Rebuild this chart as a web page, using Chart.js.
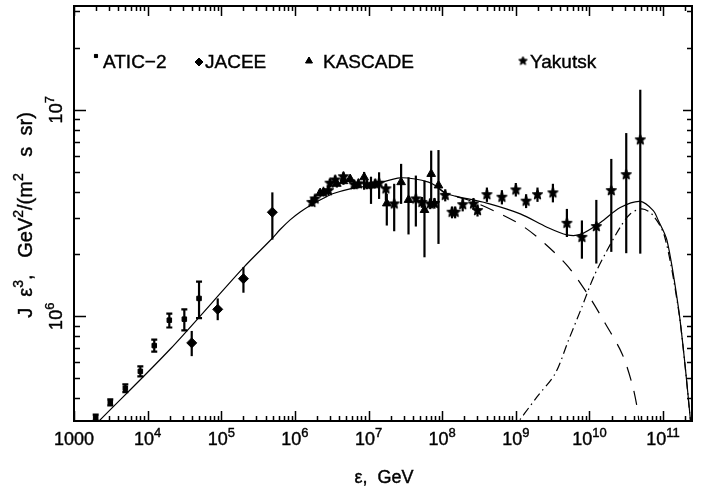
<!DOCTYPE html>
<html lang="en">
<head>
  <meta charset="UTF-8">
  <title>All-particle spectrum</title>
  <script src="https://cdn.jsdelivr.net/npm/chart.js@4.4.1/dist/chart.umd.min.js"></script>
  <style>
    body { margin: 0; background: #fff; }
  </style>
</head>
<body>
  <canvas id="myChart" width="715" height="489"></canvas>

  <script>
    // ATIC-2 (squares)
    const aticE  = [1970, 3110, 4980, 7960, 12300, 19700, 31500, 49900];
    const aticJ  = [3.23e5, 3.83e5, 4.48e5, 5.41e5, 7.21e5, 9.57e5, 9.68e5, 1.22e6];
    const aticLo = [3.12e5, 3.70e5, 4.29e5, 5.12e5, 6.74e5, 8.82e5, 8.55e5, 0.98e6];
    const aticHi = [3.34e5, 3.96e5, 4.68e5, 5.72e5, 7.71e5, 1.03e6, 1.08e6, 1.47e6];

    // JACEE (diamonds)
    const jaceeE  = [39700, 89500, 2.0e5, 4.94e5];
    const jaceeJ  = [7.43e5, 1.08e6, 1.52e6, 3.19e6];
    const jaceeLo = [6.41e5, 9.57e5, 1.30e6, 2.35e6];
    const jaceeHi = [8.49e5, 1.22e6, 1.73e6, 3.98e6];

    // KASCADE (triangles)
    const kascE  = [2.20e6, 3.71e6, 4.56e6, 5.62e6, 8.71e6, 1.08e7, 1.77e7, 2.77e7, 3.49e7, 5.75e7, 7.09e7, 8.91e7];
    const kascJ  = [3.95e6, 4.38e6, 4.51e6, 4.62e6, 4.71e6, 4.30e6, 3.52e6, 4.46e6, 3.66e6, 3.27e6, 4.89e6, 4.30e6];
    const kascLo = [3.80e6, 4.20e6, 4.33e6, 4.43e6, 4.10e6, 3.50e6, 2.75e6, 3.50e6, 2.49e6, 1.93e6, 3.56e6, 2.24e6];
    const kascHi = [4.10e6, 4.56e6, 4.70e6, 4.82e6, 5.00e6, 4.74e6, 3.92e6, 5.47e6, 4.71e6, 4.54e6, 6.34e6, 6.38e6];

    // Yakutsk (stars)
    const yakE  = [1.70e6, 1.88e6, 2.44e6, 2.85e6, 3.0e6, 3.52e6, 4.56e6, 6.37e6, 7.29e6, 9.48e6, 1.23e7, 1.39e7,
                   1.72e7, 2.23e7, 4.39e7, 5.30e7, 6.87e7, 7.86e7, 1.10e8, 1.36e8, 1.50e8, 1.90e8, 2.66e8, 3.02e8,
                   4.05e8, 6.47e8, 1.0e9, 1.38e9, 1.97e9, 3.19e9, 4.94e9, 7.9e9, 1.24e10, 1.98e10, 3.16e10, 4.9e10];
    const yakJ  = [3.56e6, 3.70e6, 3.99e6, 4.06e6, 4.41e6, 4.57e6, 4.74e6, 4.34e6, 4.38e6, 4.34e6, 4.38e6, 4.41e6,
                   4.14e6, 3.50e6, 3.70e6, 3.56e6, 3.50e6, 3.52e6, 3.85e6, 3.19e6, 3.19e6, 3.47e6, 3.50e6, 3.25e6,
                   3.88e6, 3.77e6, 4.09e6, 3.61e6, 3.88e6, 3.96e6, 2.82e6, 2.41e6, 2.72e6, 4.06e6, 4.85e6, 7.15e6];
    const yakLo = [3.40e6, 3.52e6, 3.80e6, 3.86e6, 4.20e6, 4.35e6, 4.50e6, 4.12e6, 4.16e6, 4.12e6, 4.16e6, 3.70e6,
                   3.63e6, 2.58e6, 2.72e6, 3.35e6, 3.30e6, 3.32e6, 3.60e6, 2.98e6, 2.98e6, 3.22e6, 3.28e6, 3.04e6,
                   3.58e6, 3.48e6, 3.80e6, 3.34e6, 3.58e6, 3.56e6, 2.42e6, 1.90e6, 1.80e6, 2.05e6, 2.02e6, 2.01e6];
    const yakHi = [3.73e6, 3.88e6, 4.18e6, 4.26e6, 4.62e6, 4.80e6, 4.98e6, 4.56e6, 4.60e6, 4.56e6, 4.60e6, 4.98e6,
                   4.38e6, 4.38e6, 4.80e6, 3.78e6, 3.72e6, 3.74e6, 4.12e6, 3.40e6, 3.40e6, 3.72e6, 3.74e6, 3.48e6,
                   4.20e6, 4.08e6, 4.42e6, 3.90e6, 4.20e6, 4.38e6, 3.31e6, 2.91e6, 3.66e6, 5.78e6, 7.71e6, 1.25e7];

    // model curves
    const totalE = [2190, 2.0e4, 2.0e5, 4.9e5, 6.30e5, 8.61e5, 1.18e6, 1.70e6, 2.44e6, 3.33e6, 5.62e6, 9.48e6, 1.44e7,
                    2.69e7, 4.30e7, 6.52e7, 8.04e7, 1.10e8, 1.50e8, 4.05e8, 1.15e9, 2.65e9, 4.94e9, 7.50e9, 1.40e10,
                    2.62e10, 4.90e10, 7.36e10, 8.61e10, 1.13e11, 1.61e11, 2.00e11, 2.34e11, 2.45e11];
    const totalJ = [3.11e5, 6.9e5, 1.72e6, 2.38e6, 2.63e6, 2.93e6, 3.20e6, 3.48e6, 3.73e6, 3.93e6, 4.14e6, 4.27e6, 4.44e6,
                    4.68e6, 4.62e6, 4.46e6, 4.30e6, 3.95e6, 3.82e6, 3.53e6, 3.13e6, 2.70e6, 2.48e6, 2.49e6, 2.84e6,
                    3.36e6, 3.60e6, 3.25e6, 2.91e6, 2.33e6, 1.11e6, 5.69e5, 3.21e5, 2.80e5];
    const galE = [8.04e7, 1.10e8, 2.40e8, 5.53e8, 1.21e9, 2.51e9, 5.20e9, 9.72e9, 1.64e10, 2.76e10, 3.78e10, 4.42e10, 4.76e10];
    const galJ = [4.30e6, 3.95e6, 3.63e6, 3.19e6, 2.75e6, 2.24e6, 1.73e6, 1.26e6, 9.22e5, 6.61e5, 4.73e5, 3.65e5, 2.97e5];
    const exgE = [8.93e8, 1.94e9, 3.43e9, 5.20e9, 7.91e9, 1.14e10, 1.73e10, 2.62e10, 3.58e10, 5.16e10, 7.13e10,
                  1.04e11, 1.61e11, 2.00e11, 2.34e11, 2.45e11];
    const exgJ = [2.81e5, 4.07e5, 5.28e5, 7.66e5, 1.11e6, 1.55e6, 2.08e6, 2.70e6, 3.13e6, 3.31e6, 3.11e6,
                  2.46e6, 1.09e6, 5.65e5, 3.18e5, 2.78e5];

    // axes
    const xMin = 1000, xMax = 2.47e11;
    const yMin = 3.11e5, yMax = 3.18e7;
    const xTickVals = [1e3, 1e4, 1e5, 1e6, 1e7, 1e8, 1e9, 1e10, 1e11];
    const xTickText = ['1000', '10^4', '10^5', '10^6', '10^7', '10^8', '10^9', '10^10', '10^11'];
    const yTickVals = [1e6, 1e7];
    const yTickText = ['10^6', '10^7'];
    const xTitle = 'ε,  GeV';
    const yTitle = 'J  ε^3,   GeV^2/(m^2   s  sr)';
    const legendNames = ['ATIC\u22122', 'JACEE', 'KASCADE', 'Yakutsk'];

    const FONT = '"Liberation Sans", Arial, sans-serif';

    function pts(xs, ys) {
      return xs.map((v, i) => ({x: v, y: ys[i]}));
    }

    function starImage(r) {
      const c = document.createElement('canvas');
      const s = Math.ceil(r * 2 + 2);
      c.width = s; c.height = s;
      const g = c.getContext('2d');
      g.fillStyle = '#000';
      g.strokeStyle = '#000';
      g.lineWidth = 1;
      g.beginPath();
      for (let i = 0; i < 10; i++) {
        const a = -Math.PI / 2 + i * Math.PI / 5;
        const rr = i % 2 ? r * 0.45 : r;
        g.lineTo(s / 2 + rr * Math.cos(a), s / 2 + rr * Math.sin(a));
      }
      g.closePath();
      g.fill();
      g.stroke();
      return c;
    }
    const star = starImage(5.5);
    const starSmall = starImage(4.5);

    // split "10^4" style strings into normal / superscript parts
    function parts(str) {
      const out = [];
      const re = /\^(\d+|.)/g;
      let last = 0, m;
      while ((m = re.exec(str))) {
        if (m.index > last) out.push([str.slice(last, m.index), false]);
        out.push([m[1], true]);
        last = re.lastIndex;
      }
      if (last < str.length) out.push([str.slice(last), false]);
      return out;
    }

    function drawRich(ctx, str, x, y, size) {
      const p = parts(str);
      const sup = Math.round(size * 0.72);
      let w = 0;
      p.forEach(([t, s]) => { ctx.font = (s ? sup : size) + 'px ' + FONT; w += ctx.measureText(t).width; });
      let cx = x - w / 2;
      ctx.textAlign = 'left';
      ctx.textBaseline = 'alphabetic';
      ctx.lineWidth = 0.4;
      p.forEach(([t, s]) => {
        ctx.font = (s ? sup : size) + 'px ' + FONT;
        const ty = s ? y - size * 0.45 : y;
        ctx.fillText(t, cx, ty);
        ctx.strokeText(t, cx, ty);
        cx += ctx.measureText(t).width;
      });
    }

    const errors = {
      'ATIC-2': {lo: aticLo, hi: aticHi, cap: 3},
      'JACEE': {lo: jaceeLo, hi: jaceeHi, cap: 0},
      'KASCADE': {lo: kascLo, hi: kascHi, cap: 0},
      'Yakutsk': {lo: yakLo, hi: yakHi, cap: 0}
    };

    const errorBars = {
      id: 'errorBars',
      afterDatasetsDraw(chart) {
        const {ctx, chartArea: a, scales: {x, y}} = chart;
        ctx.save();
        ctx.beginPath();
        ctx.rect(a.left, a.top, a.width, a.height);
        ctx.clip();
        ctx.strokeStyle = '#000';
        ctx.lineWidth = 2.2;
        chart.data.datasets.forEach(ds => {
          const e = errors[ds.label];
          if (!e) return;
          ds.data.forEach((p, i) => {
            const px = x.getPixelForValue(p.x);
            const y1 = y.getPixelForValue(e.lo[i]);
            const y2 = y.getPixelForValue(e.hi[i]);
            ctx.beginPath();
            ctx.moveTo(px, y1);
            ctx.lineTo(px, y2);
            if (e.cap) {
              ctx.moveTo(px - e.cap, y1); ctx.lineTo(px + e.cap, y1);
              ctx.moveTo(px - e.cap, y2); ctx.lineTo(px + e.cap, y2);
            }
            ctx.stroke();
          });
        });
        ctx.restore();
      }
    };

    const frame = {
      id: 'frame',
      afterDraw(chart) {
        const {ctx, chartArea: a, scales: {x, y}} = chart;
        ctx.save();
        ctx.strokeStyle = '#000';
        ctx.fillStyle = '#000';
        ctx.lineWidth = 2;
        ctx.strokeRect(a.left, a.top, a.width, a.height);

        // inward ticks
        ctx.lineWidth = 1.5;
        ctx.beginPath();
        for (let d = 3; d <= 11; d++) {
          for (let m = 1; m <= 9; m++) {
            const v = m * Math.pow(10, d);
            if (v < xMin || v > xMax) continue;
            const px = Math.round(x.getPixelForValue(v)) + 0.5;
            const len = m === 1 ? 10 : 5;
            ctx.moveTo(px, a.bottom); ctx.lineTo(px, a.bottom - len);
            ctx.moveTo(px, a.top); ctx.lineTo(px, a.top + len);
          }
        }
        for (let d = 5; d <= 7; d++) {
          for (let m = 1; m <= 9; m++) {
            const v = m * Math.pow(10, d);
            if (v < yMin || v > yMax) continue;
            const py = Math.round(y.getPixelForValue(v)) + 0.5;
            const len = m === 1 ? 12 : 6;
            ctx.moveTo(a.left, py); ctx.lineTo(a.left + len, py);
            ctx.moveTo(a.right, py); ctx.lineTo(a.right - (m === 1 ? 9 : 5), py);
          }
        }
        ctx.stroke();

        // tick labels
        xTickVals.forEach((v, i) => {
          drawRich(ctx, xTickText[i], x.getPixelForValue(v), a.bottom + 24, 18);
        });
        yTickVals.forEach((v, i) => {
          ctx.save();
          ctx.translate(a.left - 12, y.getPixelForValue(v));
          ctx.rotate(-Math.PI / 2);
          drawRich(ctx, yTickText[i], 0, 0, 18);
          ctx.restore();
        });

        // axis titles
        drawRich(ctx, xTitle, (a.left + a.right) / 2 + 1, 483, 18);
        ctx.save();
        ctx.translate(32, 215);
        ctx.rotate(-Math.PI / 2);
        drawRich(ctx, yTitle, 0, 0, 20);
        ctx.restore();

        // legend
        const marks = [
          {style: 'rect', r: 2.2, mx: 96, my: 56, tx: 103},
          {style: 'rectRot', r: 4, mx: 199, my: 62, tx: 205},
          {style: 'triangle', r: 4, mx: 309, my: 61, tx: 323},
          {style: starSmall, r: 5, mx: 523, my: 61, tx: 530}
        ];
        ctx.textAlign = 'left';
        ctx.textBaseline = 'alphabetic';
        marks.forEach((mk, i) => {
          ctx.lineWidth = 1;
          Chart.helpers.drawPoint(ctx, {pointStyle: mk.style, radius: mk.r, rotation: 0, borderWidth: 1}, mk.mx, mk.my);
          ctx.fill();
          ctx.font = '19px ' + FONT;
          ctx.lineWidth = 0.4;
          ctx.fillText(legendNames[i], mk.tx, 68);
          ctx.strokeText(legendNames[i], mk.tx, 68);
        });
        ctx.restore();
      }
    };

    const markerBase = {backgroundColor: '#000', borderColor: '#000', borderWidth: 1, showLine: false};
    const lineBase = {borderColor: '#000', borderWidth: 1.2, pointRadius: 0, showLine: true, fill: false,
                      tension: 0.3};

    const ctx = document.getElementById('myChart').getContext('2d');
    const myChart = new Chart(ctx, {
      type: 'scatter',
      data: {
        datasets: [
          Object.assign({label: 'ATIC-2', data: pts(aticE, aticJ), pointStyle: 'rect', pointRadius: 3.2}, markerBase),
          Object.assign({label: 'JACEE', data: pts(jaceeE, jaceeJ), pointStyle: 'rectRot', pointRadius: 5}, markerBase),
          Object.assign({label: 'KASCADE', data: pts(kascE, kascJ), pointStyle: 'triangle', pointRadius: 5}, markerBase),
          Object.assign({label: 'Yakutsk', data: pts(yakE, yakJ), pointStyle: star, pointRadius: 5}, markerBase),
          Object.assign({label: 'total', data: pts(totalE, totalJ)}, lineBase),
          Object.assign({label: 'galactic', data: pts(galE, galJ), borderDash: [14, 11]}, lineBase),
          Object.assign({label: 'extragalactic', data: pts(exgE, exgJ), borderDash: [9, 4, 1.5, 4]}, lineBase)
        ]
      },
      options: {
        responsive: false,
        animation: false,
        devicePixelRatio: 1,
        layout: {padding: {left: 74, top: 5, right: 23, bottom: 68}},
        plugins: {legend: {display: false}, tooltip: {enabled: false}},
        scales: {
          x: {type: 'logarithmic', min: xMin, max: xMax, display: false},
          y: {type: 'logarithmic', min: yMin, max: yMax, display: false}
        }
      },
      plugins: [errorBars, frame]
    });
  </script>
</body>
</html>
